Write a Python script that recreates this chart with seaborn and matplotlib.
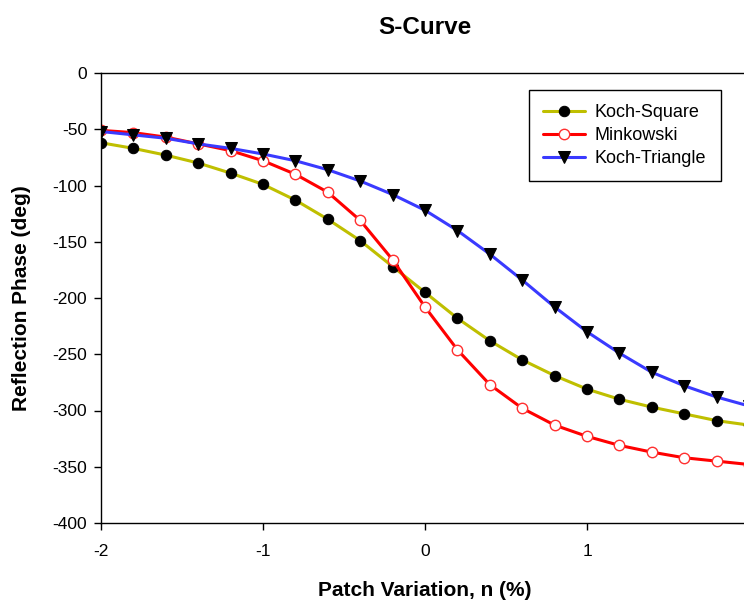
import numpy as np
import pandas as pd
import seaborn as sns
import matplotlib.pyplot as plt

# Patch variation (%) and reflection phase (deg)
n_pct = [-2.0, -1.8, -1.6, -1.4, -1.2, -1.0, -0.8, -0.6, -0.4, -0.2, 0.0,
         0.2, 0.4, 0.6, 0.8, 1.0, 1.2, 1.4, 1.6, 1.8, 2.0]
koch_square = [-62, -67, -73, -80, -89, -99, -113, -130, -149, -172, -195,
               -218, -238, -255, -269, -281, -290, -297, -303, -309, -313]
minkowski = [-51, -53, -57, -63, -69, -78, -90, -106, -131, -166, -208,
             -246, -277, -298, -313, -323, -331, -337, -342, -345, -348]
koch_triangle = [-52, -55, -58, -63, -67, -72, -78, -86, -96, -108, -122,
                 -140, -161, -184, -208, -230, -249, -266, -278, -288, -296]

df = pd.DataFrame({'n': n_pct, 'Koch-Square': koch_square,
                   'Minkowski': minkowski, 'Koch-Triangle': koch_triangle})

sns.set_style('ticks')
plt.rcParams['font.family'] = ['Liberation Sans', 'DejaVu Sans']
plt.rcParams['axes.unicode_minus'] = False
plt.rcParams['text.color'] = 'black'
plt.rcParams['axes.labelcolor'] = 'black'

fig = plt.figure(figsize=(7.44, 6.03), dpi=100)
# the plot area runs slightly past the right edge of the picture, like the original
ax = fig.add_axes([101 / 744, 1 - 523 / 603, 648 / 744, 450 / 603])

sns.lineplot(data=df, x='n', y='Koch-Square', ax=ax, color='#BFBF00', lw=2.2,
             marker='o', markersize=7.5, markerfacecolor='black',
             markeredgecolor='black', label='Koch-Square')
sns.lineplot(data=df, x='n', y='Minkowski', ax=ax, color='#FF0000', lw=2.2,
             marker='o', markersize=7.5, markerfacecolor='white',
             markeredgecolor='#FF3030', markeredgewidth=1, label='Minkowski')
sns.lineplot(data=df, x='n', y='Koch-Triangle', ax=ax, color='#3A3AFF', lw=2.2,
             marker='v', markersize=8.5, markerfacecolor='black',
             markeredgecolor='black', label='Koch-Triangle')

ax.set_xlim(-2, 2)
ax.set_ylim(-400, 0)
ax.set_xticks([-2, -1, 0, 1, 2])
ax.set_yticks(np.arange(-400, 1, 50))
ax.tick_params(direction='out', length=5, width=1, labelsize=12.5, colors='black')
ax.tick_params(axis='x', pad=10)
ax.tick_params(axis='y', pad=5)
for s in ax.spines.values():
    s.set_linewidth(1)
    s.set_color('black')

ax.set_xlabel('Patch Variation, n (%)', fontsize=15, fontweight='bold',
              labelpad=16, color='black')
ax.set_ylabel('Reflection Phase (deg)', fontsize=15, fontweight='bold',
              labelpad=15, color='black')
fig.text(425 / 744, 1 - 27 / 603, 'S-Curve', ha='center', va='center',
         fontsize=17.5, fontweight='bold', color='black')

leg = ax.legend(loc='upper left', bbox_to_anchor=(428 / 648, 1 - 17 / 450),
                frameon=True, fancybox=False, fontsize=13, borderpad=0.8,
                handlelength=2.3, handletextpad=0.55, labelspacing=0.32,
                borderaxespad=0)
leg.get_frame().set_edgecolor('black')
leg.get_frame().set_linewidth(1)
leg.get_frame().set_alpha(1)

fig.savefig('out.png', dpi=100)
